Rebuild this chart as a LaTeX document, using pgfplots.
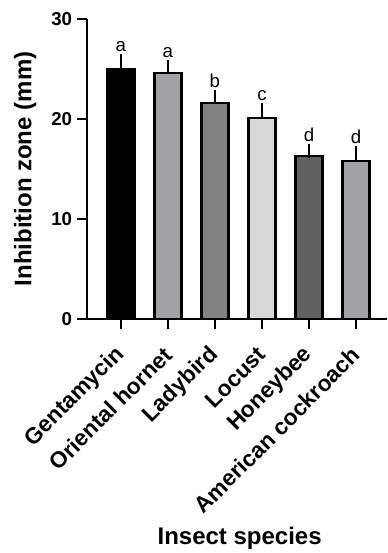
\documentclass[border=0pt]{standalone}
\usepackage{fontspec}
\setmainfont{Liberation Sans}
\usepackage{pgfplots}
\pgfplotsset{compat=1.18}
\usepackage{pgfplotstable}
\definecolor{cA}{HTML}{000000}
\definecolor{cB}{HTML}{A2A2A6}
\definecolor{cC}{HTML}{828282}
\definecolor{cD}{HTML}{D8D8D8}
\definecolor{cE}{HTML}{616161}
\definecolor{cF}{HTML}{A2A2A6}
\pgfplotstableread{
x y err
0 25.0 0.8
1 24.6 0.6
2 21.6 0.6
3 20.1 0.8
4 16.3 0.5
5 15.8 0.8
}\bars
\pgfplotstableread{
x y lbl
0 25.8 a
1 25.2 a
2 22.2 b
3 20.9 c
4 16.8 d
5 16.6 d
}\letters
\pgfplotsset{
  mybar/.style={ybar, bar width=20.3pt, draw=black, line width=2.2pt, fill=#1,
    error bars/.cd, y dir=plus, y explicit,
    error bar style={line width=1.6pt, black},
    error mark options={line width=1.6pt, mark size=4.9pt, black}},
}
\begin{document}
\begin{tikzpicture}
\path[use as bounding box] (-65.25pt,-175.5pt) rectangle (225pt,239.25pt);
\begin{axis}[
  at={(0,0)}, anchor=south west,
  scale only axis,
  width=225pt, height=225pt,
  xmin=-0.72, xmax=5.66,
  ymin=0, ymax=30,
  axis lines=left,
  axis line style={-, line width=2.2pt},
  xtick={0,1,2,3,4,5},
  xticklabels={Gentamycin,Oriental hornet,Ladybird,Locust,Honeybee,American cockroach},
  ytick={0,10,20,30},
  tick align=outside,
  major tick length=7.5pt,
  tick style={line width=1.8pt, black},
  /pgf/number format/assume math mode=true,
  yticklabel style={font=\fontsize{14}{16}\selectfont\bfseries, inner sep=0pt, xshift=-3.5pt},
  xticklabel style={font=\fontsize{17}{19}\selectfont\bfseries, anchor=east, inner sep=0pt, xshift=0pt, yshift=-16.5pt, rotate=45},
  ylabel={Inhibition zone (mm)},
  xlabel={Insect species},
  ylabel style={font=\fontsize{18}{20}\selectfont\bfseries, at={(axis description cs:0,0.5)}, anchor=north, inner sep=0pt, yshift=55pt},
  xlabel style={font=\fontsize{18}{20}\selectfont\bfseries, at={(axis description cs:0.5,0)}, anchor=base, inner sep=0pt, yshift=-169pt, xshift=2pt},
  clip=false,
]
\addplot[mybar=cA] table[x=x, y=y, y error=err, restrict expr to domain={\thisrow{x}}{0:0}] {\bars};
\addplot[mybar=cB] table[x=x, y=y, y error=err, restrict expr to domain={\thisrow{x}}{1:1}] {\bars};
\addplot[mybar=cC] table[x=x, y=y, y error=err, restrict expr to domain={\thisrow{x}}{2:2}] {\bars};
\addplot[mybar=cD] table[x=x, y=y, y error=err, restrict expr to domain={\thisrow{x}}{3:3}] {\bars};
\addplot[mybar=cE] table[x=x, y=y, y error=err, restrict expr to domain={\thisrow{x}}{4:4}] {\bars};
\addplot[mybar=cF] table[x=x, y=y, y error=err, restrict expr to domain={\thisrow{x}}{5:5}] {\bars};
\addplot[draw=none, mark=none, nodes near coords, point meta=explicit symbolic,
  nodes near coords style={anchor=south, font=\fontsize{14}{16}\selectfont, yshift=3.5pt}]
  table[x=x, y=y, meta=lbl] {\letters};
\end{axis}
\end{tikzpicture}
\end{document}
